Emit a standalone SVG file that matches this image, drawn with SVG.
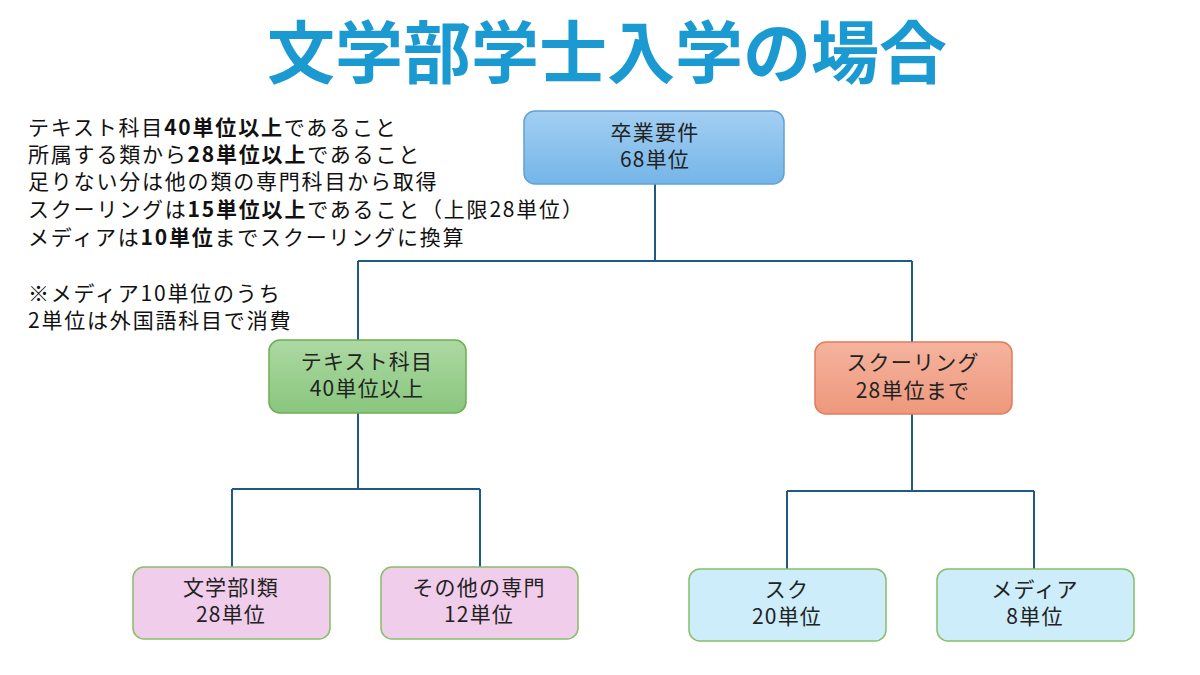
<svg xmlns="http://www.w3.org/2000/svg" width="1200" height="675" viewBox="0 0 1200 675">
<defs>
<linearGradient id="gBlue" x1="0" y1="0" x2="0" y2="1"><stop offset="0" stop-color="#a3cff2"/><stop offset="1" stop-color="#74b5e8"/></linearGradient>
<linearGradient id="gGreen" x1="0" y1="0" x2="0" y2="1"><stop offset="0" stop-color="#add9a3"/><stop offset="1" stop-color="#88c67e"/></linearGradient>
<linearGradient id="gRed" x1="0" y1="0" x2="0" y2="1"><stop offset="0" stop-color="#f5b39e"/><stop offset="1" stop-color="#ee987c"/></linearGradient>
<style>
text{font-family:"Noto Sans CJK JP","Noto Sans",sans-serif;}
.t{font-size:21px;fill:#222;text-anchor:middle;letter-spacing:1.2px;}
.note{font-size:21px;fill:#111;letter-spacing:1.8px;}
.b{font-weight:bold;}
.title{font-size:68px;font-weight:bold;fill:#1b9ad2;text-anchor:middle;}
.conn{stroke:#1f5a86;stroke-width:2;fill:none;}
.pink{fill:#f1cdec;stroke:#86bf66;stroke-width:1.5;}
.cyan{fill:#cdedfb;stroke:#86bf66;stroke-width:1.5;}
</style>
</defs>
<rect width="1200" height="675" fill="#fff"/>
<text class="title" x="607" y="78">文学部学士入学の場合</text>
<g id="notes">
<text class="note" x="28" y="135">テキスト科目<tspan class="b">40単位以上</tspan>であること</text>
<text class="note" x="28" y="162">所属する類から<tspan class="b">28単位以上</tspan>であること</text>
<text class="note" x="28" y="189">足りない分は他の類の専門科目から取得</text>
<text class="note" x="28" y="217">スクーリングは<tspan class="b">15単位以上</tspan>であること（上限28単位）</text>
<text class="note" x="28" y="245">メディアは<tspan class="b">10単位</tspan>までスクーリングに換算</text>
<text class="note" x="28" y="301">※メディア10単位のうち</text>
<text class="note" x="28" y="328">2単位は外国語科目で消費</text>
</g>
<g id="connectors">
<path class="conn" d="M655 184V261M358 261H912M358 261V340M912 261V342"/>
<path class="conn" d="M358 413V489M232 489H480M232 489V567M480 489V567"/>
<path class="conn" d="M912 414V491M787 491H1034M787 491V569M1034 491V569"/>
</g>
<g id="root">
<rect x="524" y="111" width="260" height="73" rx="11" fill="url(#gBlue)" stroke="#5ea3d6" stroke-width="1.5"/>
<text class="t" x="655" y="140">卒業要件</text>
<text class="t" x="655" y="167">68単位</text>
</g>
<g id="text-subjects">
<rect x="269" y="340" width="197" height="73" rx="11" fill="url(#gGreen)" stroke="#6cae52" stroke-width="1.5"/>
<text class="t" x="367" y="369">テキスト科目</text>
<text class="t" x="367" y="396">40単位以上</text>
</g>
<g id="schooling">
<rect x="815" y="342" width="197" height="72" rx="11" fill="url(#gRed)" stroke="#e27c5c" stroke-width="1.5"/>
<text class="t" x="913" y="370">スクーリング</text>
<text class="t" x="913" y="398">28単位まで</text>
</g>
<g id="bungaku">
<rect class="pink" x="133" y="567" width="197" height="72" rx="11"/>
<text class="t" x="231" y="595">文学部I類</text>
<text class="t" x="231" y="622">28単位</text>
</g>
<g id="other">
<rect class="pink" x="381" y="567" width="197" height="72" rx="11"/>
<text class="t" x="479" y="595">その他の専門</text>
<text class="t" x="479" y="622">12単位</text>
</g>
<g id="suku">
<rect class="cyan" x="689" y="569" width="197" height="72" rx="11"/>
<text class="t" x="787" y="597">スク</text>
<text class="t" x="787" y="624">20単位</text>
</g>
<g id="media">
<rect class="cyan" x="937" y="569" width="197" height="72" rx="11"/>
<text class="t" x="1035" y="597">メディア</text>
<text class="t" x="1035" y="624">8単位</text>
</g>
</svg>
